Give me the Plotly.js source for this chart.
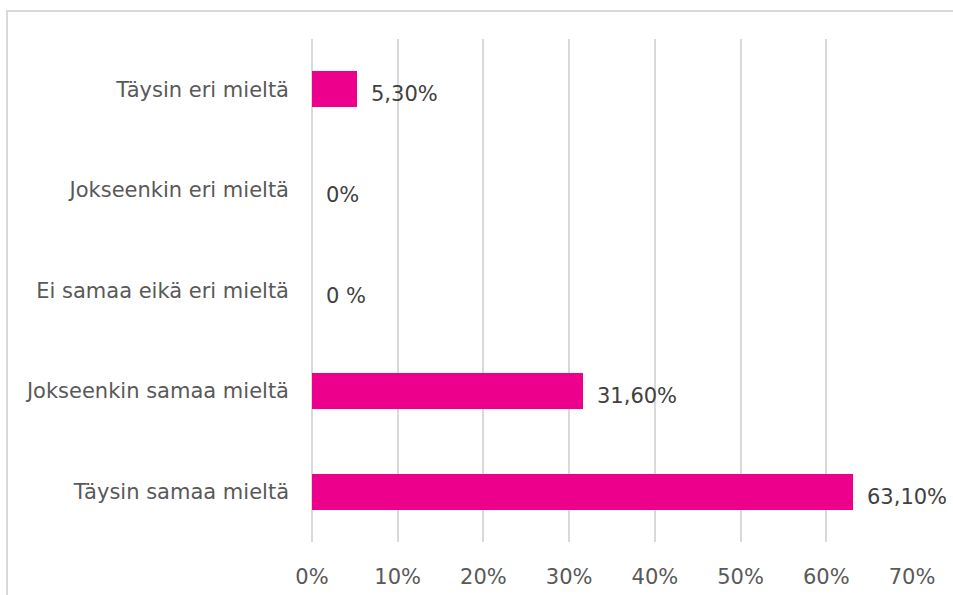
<!DOCTYPE html>
<html>
<head>
<meta charset="utf-8">
<script src="https://cdn.plot.ly/plotly-3.0.1.min.js"></script>
<style>
  html, body { margin: 0; padding: 0; background: #ffffff; }
  #wrap { position: relative; width: 953px; height: 595px; overflow: hidden; }
  #frame { position: absolute; left: 6px; top: 10px; width: 1200px; height: 1200px;
           border-left: 2px solid #d9d9d9; border-top: 2px solid #d9d9d9; box-sizing: border-box; }
  #chart { position: absolute; left: 0; top: 0; width: 953px; height: 595px; }
</style>
</head>
<body>
<div id="wrap">
  <div id="frame"></div>
  <div id="chart"></div>
</div>
<script>
// Categories, top to bottom
const categories = [
  "Täysin eri mieltä",
  "Jokseenkin eri mieltä",
  "Ei samaa eikä eri mieltä",
  "Jokseenkin samaa mieltä",
  "Täysin samaa mieltä"
];
// Percent values
const values = [5.3, 0, 0, 31.6, 63.1];
// Data labels as shown
const valueLabels = ["5,30%", "0%", "0 %", "31,60%", "63,10%"];
// X tick values and labels
const tickValues = [0, 10, 20, 30, 40, 50, 60, 70];
const tickLabels = ["0%", "10%", "20%", "30%", "40%", "50%", "60%", "70%"];

const FONT = "DejaVu Sans, sans-serif";

const trace = {
  type: "bar",
  orientation: "h",
  x: values,
  y: categories,
  width: 0.355,
  marker: { color: "#EC008C" },
  hoverinfo: "skip"
};

const annotations = categories.map((c, i) => ({
  x: values[i],
  y: c,
  xref: "x",
  yref: "y",
  text: valueLabels[i],
  showarrow: false,
  xanchor: "left",
  yanchor: "middle",
  xshift: 12,
  yshift: -5,
  font: { family: FONT, size: 21, color: "#404040" }
}));

const layout = {
  width: 953,
  height: 595,
  paper_bgcolor: "rgba(0,0,0,0)",
  plot_bgcolor: "rgba(0,0,0,0)",
  margin: { l: 312, r: 41, t: 39, b: 53 },
  showlegend: false,
  bargap: 0,
  xaxis: {
    range: [0, 70],
    tickvals: tickValues,
    ticktext: tickLabels,
    showgrid: true,
    gridcolor: "#d9d9d9",
    gridwidth: 2,
    zeroline: false,
    showline: false,
    ticks: "",
    ticklabelstandoff: 20,
    tickfont: { family: FONT, size: 21, color: "#595959" },
    fixedrange: true
  },
  yaxis: {
    type: "category",
    categoryorder: "array",
    categoryarray: categories,
    autorange: "reversed",
    showgrid: false,
    zeroline: false,
    showline: false,
    ticks: "",
    ticklabelstandoff: 22,
    tickfont: { family: FONT, size: 21, color: "#595959" },
    fixedrange: true
  },
  shapes: [{
    // gridline at the 0% value (the left edge of the x range)
    type: "line",
    xref: "paper", yref: "paper",
    x0: 0, x1: 0, y0: 0, y1: 1,
    line: { color: "#d9d9d9", width: 2 },
    layer: "below"
  }],
  annotations: annotations
};

Plotly.newPlot("chart", [trace], layout, { displayModeBar: false, staticPlot: true });
</script>
</body>
</html>
